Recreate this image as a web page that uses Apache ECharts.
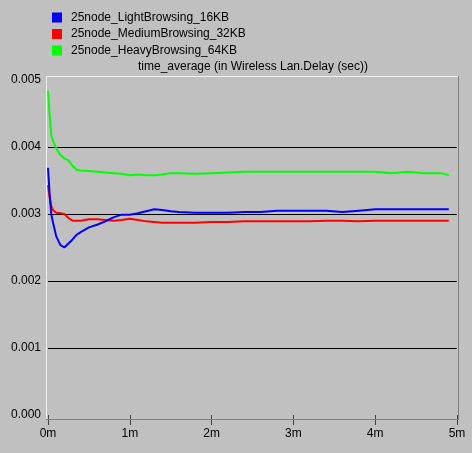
<!DOCTYPE html>
<html><head><meta charset="utf-8">
<script src="https://cdn.jsdelivr.net/npm/echarts@6/dist/echarts.min.js"></script>
<style>html,body{margin:0;padding:0;background:#c0c0c0}#c{width:472px;height:453px}</style>
</head><body><div id="c"></div>
<script>
var seriesNames = ['25node_LightBrowsing_16KB','25node_MediumBrowsing_32KB','25node_HeavyBrowsing_64KB'];
var titleText = 'time_average (in Wireless Lan.Delay (sec))';
var xTickLabels = ['0m','1m','2m','3m','4m','5m'];
var yTickLabels = ['0.000','0.001','0.002','0.003','0.004','0.005'];
var times = [0,0.02,0.04,0.06,0.1,0.15,0.2,0.25,0.3,0.35,0.4,0.5,0.6,0.7,0.8,0.9,1.0,1.1,1.2,1.3,1.4,1.5,1.6,1.8,2.0,2.2,2.4,2.6,2.8,3.0,3.2,3.4,3.6,3.8,4.0,4.2,4.4,4.6,4.8,4.9];
var lightValues = [0.00369,0.00330,0.00300,0.00288,0.00267,0.00254,0.00250,0.00256,0.00262,0.00269,0.00273,0.00280,0.00284,0.00289,0.00295,0.00299,0.00299,0.00301,0.00304,0.00307,0.00306,0.00304,0.00303,0.00302,0.00302,0.00302,0.00303,0.00303,0.00305,0.00305,0.00305,0.00305,0.00303,0.00305,0.00307,0.00307,0.00307,0.00307,0.00307,0.00307];
var mediumValues = [0.00343,0.00325,0.00312,0.00306,0.00302,0.00301,0.00300,0.00294,0.00290,0.00290,0.00290,0.00292,0.00292,0.00291,0.00290,0.00291,0.00293,0.00291,0.00289,0.00288,0.00287,0.00287,0.00287,0.00287,0.00288,0.00288,0.00289,0.00289,0.00289,0.00289,0.00289,0.00290,0.00290,0.00289,0.00290,0.00290,0.00290,0.00290,0.00290,0.00290];
var heavyValues = [0.00484,0.00448,0.00418,0.00410,0.00398,0.00388,0.00383,0.00380,0.00372,0.00366,0.00365,0.00364,0.00363,0.00362,0.00361,0.00360,0.00358,0.00359,0.00358,0.00358,0.00359,0.00361,0.00361,0.00360,0.00361,0.00362,0.00363,0.00363,0.00363,0.00363,0.00363,0.00363,0.00363,0.00363,0.00363,0.00361,0.00363,0.00361,0.00361,0.00358];
var colors = ['#0000ff','#ff0000','#00ff00'];

function pairs(v){ return times.map(function(t,i){ return [t, v[i]]; }); }
var FONT = 'Liberation Sans, Arial, sans-serif';
var chart = echarts.init(document.getElementById('c'), null, {renderer:'canvas'});
var G = {l:48, r:15, t:80, b:38};
chart.setOption({
  backgroundColor:'#c0c0c0',
  animation:false,
  color: colors,
  legend:{
    orient:'vertical', left:52, top:11, padding:0, itemWidth:10, itemHeight:10, itemGap:3.5,
    icon:'rect', data: seriesNames,
    textStyle:{fontFamily:FONT, fontSize:12, color:'#000', lineHeight:13, padding:[0,0,0,4]}
  },
  grid:{left:G.l, right:G.r, top:G.t, bottom:G.b},
  xAxis:{
    type:'value', min:0, max:5, interval:1, offset:4,
    axisLine:{show:false},
    axisTick:{show:true, length:10, lineStyle:{color:'#404040', width:1}},
    axisLabel:{margin:9, fontFamily:FONT, fontSize:12, color:'#000',
      formatter:function(v){ return xTickLabels[Math.round(v)]; }},
    splitLine:{show:false}
  },
  yAxis:{
    type:'value', min:0, max:0.005, interval:0.001,
    axisLine:{show:false}, axisTick:{show:false},
    axisLabel:{margin:7, fontFamily:FONT, fontSize:12, color:'#000',
      formatter:function(v){ return yTickLabels[Math.round(v*1000)]; }},
    splitLine:{show:true, lineStyle:{color:['rgba(0,0,0,0)','#000','#000','#000','#000','rgba(0,0,0,0)'], width:1}}
  },
  graphic:[
    {type:'line', shape:{x1:46, y1:76.5, x2:458, y2:76.5}, style:{stroke:'#f0f0f0', lineWidth:1}, z:1},
    {type:'line', shape:{x1:46.5, y1:76, x2:46.5, y2:419}, style:{stroke:'#f0f0f0', lineWidth:1}, z:1},
    {type:'line', shape:{x1:458.5, y1:76, x2:458.5, y2:420}, style:{stroke:'#808080', lineWidth:1}, z:1},
    {type:'line', shape:{x1:46, y1:419.5, x2:459, y2:419.5}, style:{stroke:'#808080', lineWidth:1}, z:1},
    {type:'text', x:253, y:67, style:{text:titleText, textAlign:'center', textVerticalAlign:'middle', fontFamily:FONT, fontSize:12, fill:'#000'}}
  ],
  series:[
    {name:seriesNames[0], type:'line', data:pairs(lightValues), showSymbol:false, lineStyle:{width:2, color:colors[0]}, itemStyle:{color:colors[0]}, z:4},
    {name:seriesNames[1], type:'line', data:pairs(mediumValues), showSymbol:false, lineStyle:{width:2, color:colors[1]}, itemStyle:{color:colors[1]}, z:3},
    {name:seriesNames[2], type:'line', data:pairs(heavyValues), showSymbol:false, lineStyle:{width:2, color:colors[2]}, itemStyle:{color:colors[2]}, z:3}
  ]
});
</script></body></html>
